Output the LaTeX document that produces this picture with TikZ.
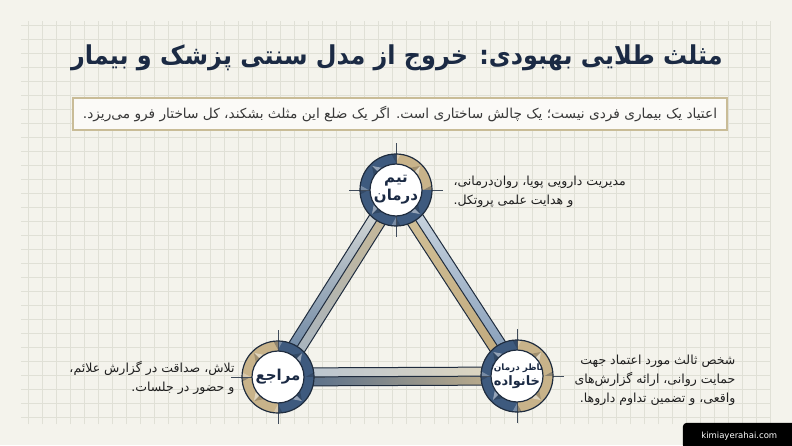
\documentclass[tikz,border=0pt]{standalone}
\usepackage{fontspec}
\usetikzlibrary{calc}
\setsansfont{DejaVu Sans}
\newfontfamily\farsi[Script=Arabic]{DejaVu Sans}
\TeXXeTstate=1

\definecolor{paper}{HTML}{F4F3EC}
\definecolor{gridline}{HTML}{E0E0D6}
\definecolor{ink}{HTML}{1B2A44}
\definecolor{navy}{HTML}{3E5A7E}
\definecolor{tan}{HTML}{C8B38A}
\definecolor{rim}{HTML}{1F2C3E}
\definecolor{boxline}{HTML}{C9BC97}
% band colours
\definecolor{paleA}{HTML}{E6E6DF}
\definecolor{blueA}{HTML}{5D7A9C}
\definecolor{tanA}{HTML}{CBB890}
\definecolor{skyA}{HTML}{A2B4C8}
\definecolor{paleB}{HTML}{D3DCE5}
\definecolor{blueB}{HTML}{7F98B5}
\definecolor{tanB}{HTML}{D4C39B}
\definecolor{ochreB}{HTML}{BFA77A}
\definecolor{skyC}{HTML}{B5C3D3}
\definecolor{creamC}{HTML}{E3D8BD}
\definecolor{blueC}{HTML}{4B678B}
\definecolor{tanC}{HTML}{C9B48B}

\pgfdeclarelayer{paper}
\pgfdeclarelayer{back}
\pgfdeclarelayer{mid}
\pgfsetlayers{paper,back,mid,main}

% ring round a node: centre, then quadrant colours (TR, TL, BL, BR)
\newcommand{\ringat}[5]{%
  \begin{pgfonlayer}{mid}
  \begin{scope}[shift={(#1)}]
    \foreach \a/\col in {0/#2,90/#3,180/#4,270/#5}{
      \fill[\col] (\a:36) arc (\a:\a+90:36) -- (\a+90:26) arc (\a+90:\a:26) -- cycle;
      \fill[white, opacity=0.45] (\a+45:34) -- (\a+33:26.5) -- (\a+45:26.5) -- cycle;
      \fill[black, opacity=0.2] (\a+45:34) -- (\a+57:26.5) -- (\a+45:26.5) -- cycle;
      \fill[rim, opacity=0.35] (\a:35.5) -- (\a+7:35.5) -- (\a:27.5) -- cycle;
      \fill[white, opacity=0.3] (\a:35.5) -- (\a-7:35.5) -- (\a:27.5) -- cycle;
      \draw[rim!85, line width=0.6pt] (\a:26) -- (\a:47);
    }
    \draw[rim, line width=1.2pt] (0,0) circle (36);
  \end{scope}
  \end{pgfonlayer}}

% one centred line of a corner label, with no width of its own
\newcommand{\ringline}[1]{\makebox[0pt]{\beginR #1\endR}}

\tikzset{
  ringlabel/.style={circle, fill=white, draw=rim, line width=1.2pt, minimum size=52pt,
    inner sep=0pt, align=center, text=ink, font=\farsi\bfseries\fontsize{15}{18}\selectfont},
  note/.style={text=black!88, font=\farsi\fontsize{12.5}{19}\selectfont},
  band/.style={draw=rim, line width=1pt, line join=round},
}

\begin{document}
\begin{tikzpicture}[x=1pt, y=1pt]
  \useasboundingbox (0,0) rectangle (792,445);

  % paper and grid
  \begin{pgfonlayer}{paper}
    \fill[paper] (0,0) rectangle (792,445);
    \draw[gridline, line width=0.5pt, step=14pt] (21,21) grid (771,424);
  \end{pgfonlayer}

  % title and lead
  \node[text=ink, xscale=0.92, font=\farsi\bfseries\fontsize{26}{30}\selectfont] (title) at (397,387)
    {\beginR مثلث طلایی بهبودی: خروج از مدل سنتی پزشک و بیمار\endR};
  \draw[boxline, fill=white!60!paper, line width=1.2pt] (73,315) rectangle (727,347);
  \node[text=black!78, font=\farsi\fontsize{13.7}{16}\selectfont] (lead) at (400,331)
    {\beginR اعتیاد یک بیماری فردی نیست؛ یک چالش ساختاری است. اگر یک ضلع این مثلث بشکند، کل ساختار فرو می‌ریزد.\endR};

  % the three corners
  \node[ringlabel] (team) at (396,255) {\ringline{تیم}\\\ringline{درمان}};
  \node[ringlabel] (refs) at (278,68) {\ringline{مراجع}};
  \node[ringlabel, font=\farsi\bfseries\fontsize{13}{15}\selectfont] (family) at (517,69)
    {{\fontsize{8.8}{11}\selectfont\ringline{ناظر درمان/}}\\\ringline{خانواده}};

  \ringat{team.center}{tan}{navy}{navy}{navy}
  \ringat{refs.center}{navy}{tan}{tan}{navy}
  \ringat{family.center}{tan}{navy}{navy}{tan}

  % bands between corners
  \begin{pgfonlayer}{back}
    % team -- refs
    \shade[top color=paleA, bottom color=blueA]
      (team.center) -- ($(team.center)!9pt!-90:(refs.center)$) -- ($(refs.center)!9pt!90:(team.center)$) -- (refs.center) -- cycle;
    \shade[top color=tanA, bottom color=skyA]
      (team.center) -- ($(team.center)!9pt!90:(refs.center)$) -- ($(refs.center)!9pt!-90:(team.center)$) -- (refs.center) -- cycle;
    \draw[band] ($(team.center)!9pt!-90:(refs.center)$) -- ($(refs.center)!9pt!90:(team.center)$);
    \draw[band] ($(team.center)!9pt!90:(refs.center)$) -- ($(refs.center)!9pt!-90:(team.center)$);
    \draw[band] (team.center) -- (refs.center);
    % team -- family
    \shade[top color=paleB, bottom color=blueB]
      (team.center) -- ($(team.center)!9pt!90:(family.center)$) -- ($(family.center)!9pt!-90:(team.center)$) -- (family.center) -- cycle;
    \shade[top color=tanB, bottom color=ochreB]
      (team.center) -- ($(team.center)!9pt!-90:(family.center)$) -- ($(family.center)!9pt!90:(team.center)$) -- (family.center) -- cycle;
    \draw[band] ($(team.center)!9pt!90:(family.center)$) -- ($(family.center)!9pt!-90:(team.center)$);
    \draw[band] ($(team.center)!9pt!-90:(family.center)$) -- ($(family.center)!9pt!90:(team.center)$);
    \draw[band] (team.center) -- (family.center);
    % refs -- family
    \shade[left color=skyC, right color=creamC]
      (refs.center) -- ($(refs.center)!9pt!90:(family.center)$) -- ($(family.center)!9pt!-90:(refs.center)$) -- (family.center) -- cycle;
    \shade[left color=blueC, right color=tanC]
      (refs.center) -- ($(refs.center)!9pt!-90:(family.center)$) -- ($(family.center)!9pt!90:(refs.center)$) -- (family.center) -- cycle;
    \draw[band] ($(refs.center)!9pt!90:(family.center)$) -- ($(family.center)!9pt!-90:(refs.center)$);
    \draw[band] ($(refs.center)!9pt!-90:(family.center)$) -- ($(family.center)!9pt!90:(refs.center)$);
    \draw[band] (refs.center) -- (family.center);
  \end{pgfonlayer}

  % notes beside the corners
  \node[note, align=left, anchor=west] (teamnote) at (450,253)
    {\beginR مدیریت دارویی پویا، روان‌درمانی،\endR\\\beginR و هدایت علمی پروتکل.\endR};
  \node[note, align=right, anchor=east] (refsnote) at (238,67)
    {\beginR تلاش، صداقت در گزارش علائم،\endR\\\beginR و حضور در جلسات.\endR};
  \node[note, align=right, anchor=west] (familynote) at (571,65)
    {\beginR شخص ثالث مورد اعتماد جهت\endR\\\beginR حمایت روانی، ارائه گزارش‌های\endR\\\beginR واقعی، و تضمین تداوم داروها.\endR};

  % site mark
  \node[fill=black, rounded corners=4pt, text=white, font=\sffamily\fontsize{8.5}{10}\selectfont,
    minimum width=113pt, minimum height=26pt, anchor=south east] (mark) at (796,-4) {kimiayerahai.com};
\end{tikzpicture}
\end{document}
